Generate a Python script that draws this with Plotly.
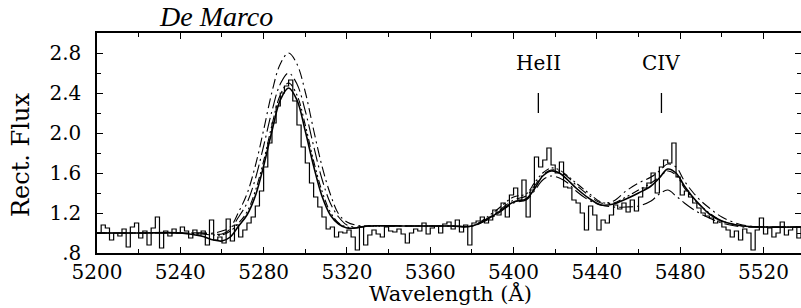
import plotly.graph_objects as go

# Observed spectrum (rectified flux), 2 A sampling
obs_wave = list(range(5200, 5541, 2))
obs_flux = [
    1.00, 1.08, 1.05, 0.93, 1.00, 0.97, 1.04, 0.86, 1.06, 1.10,
    0.95, 1.02, 0.88, 1.05, 1.16, 0.85, 1.02, 0.97, 1.04, 1.00,
    1.06, 1.02, 0.95, 1.03, 0.98, 1.02, 0.88, 1.13, 0.93, 0.96,
    0.90, 1.14, 0.92, 1.08, 0.96, 1.03, 1.10, 1.16, 1.27, 1.42,
    1.66, 1.90, 2.10, 2.27, 2.40, 2.47, 2.53, 2.32, 2.08, 1.86,
    1.70, 1.50, 1.36, 1.26, 1.16, 1.04, 1.06, 0.96, 1.01, 1.00,
    1.03, 0.96, 0.83, 1.06, 0.88, 0.98, 1.03, 0.99, 0.96, 1.06,
    1.02, 1.01, 1.04, 0.99, 0.90, 1.00, 1.04, 1.02, 1.10, 0.99,
    1.05, 1.07, 1.00, 1.09, 1.11, 1.04, 1.13, 1.01, 1.08, 0.88,
    1.10, 1.12, 1.16, 1.10, 1.13, 1.23, 1.18, 1.30, 1.16, 1.38,
    1.45, 1.33, 1.53, 1.16, 1.43, 1.76, 1.66, 1.73, 1.85, 1.68,
    1.60, 1.71, 1.46, 1.45, 1.33, 1.30, 1.20, 1.03, 1.27, 1.18,
    1.03, 1.13, 1.10, 1.18, 1.28, 1.24, 1.30, 1.21, 1.33, 1.22,
    1.36, 1.45, 1.50, 1.60, 1.40, 1.66, 1.73, 1.70, 1.90, 1.56,
    1.38, 1.42, 1.36, 1.30, 1.25, 1.20, 1.17, 1.15, 1.10, 1.12,
    1.06, 1.03, 0.96, 1.02, 0.93, 1.04, 1.00, 0.83, 1.03, 1.15,
    0.99, 1.05, 0.96, 1.00, 1.11, 0.98, 1.03, 1.06, 0.95, 1.05,
    1.02,
]

# Model wavelengths (shared grid)
model_wave = [5200, 5220, 5240, 5250, 5256, 5260, 5264, 5268, 5272, 5276,
              5280, 5284, 5288, 5292, 5296, 5300, 5304, 5308, 5312, 5316,
              5320, 5324, 5330, 5350, 5370, 5380, 5390, 5400, 5406, 5410,
              5414, 5418, 5422, 5426, 5430, 5436, 5442, 5448, 5454, 5460,
              5466, 5470, 5474, 5478, 5482, 5486, 5490, 5494, 5500, 5510,
              5520, 5540]

model_a = [1.00, 1.00, 1.00, 1.00, 1.00, 1.02, 1.06, 1.21, 1.39, 1.67,
           2.03, 2.41, 2.69, 2.80, 2.69, 2.41, 2.03, 1.67, 1.39, 1.19,
           1.11, 1.08, 1.07, 1.07, 1.07, 1.07, 1.18, 1.33, 1.37, 1.47,
           1.58, 1.63, 1.62, 1.56, 1.48, 1.38, 1.30, 1.32, 1.42, 1.50,
           1.56, 1.62, 1.69, 1.66, 1.52, 1.41, 1.32, 1.25, 1.16, 1.08,
           1.06, 1.06]
model_b = [1.00, 1.00, 1.00, 1.00, 0.99, 0.99, 1.04, 1.16, 1.30, 1.54,
           1.87, 2.22, 2.49, 2.60, 2.49, 2.22, 1.87, 1.54, 1.30, 1.16,
           1.08, 1.06, 1.07, 1.07, 1.07, 1.07, 1.16, 1.30, 1.33, 1.42,
           1.53, 1.57, 1.55, 1.50, 1.42, 1.33, 1.28, 1.26, 1.26, 1.27,
           1.32, 1.39, 1.43, 1.37, 1.30, 1.24, 1.19, 1.15, 1.10, 1.06,
           1.06, 1.06]
model_c = [1.00, 1.00, 1.00, 0.99, 0.98, 0.98, 1.02, 1.10, 1.21, 1.42,
           1.72, 2.08, 2.38, 2.50, 2.38, 2.08, 1.72, 1.42, 1.21, 1.10,
           1.06, 1.05, 1.07, 1.07, 1.07, 1.07, 1.20, 1.36, 1.39, 1.50,
           1.60, 1.65, 1.63, 1.57, 1.50, 1.40, 1.31, 1.30, 1.36, 1.43,
           1.50, 1.56, 1.62, 1.58, 1.45, 1.35, 1.27, 1.20, 1.12, 1.07,
           1.06, 1.06]
model_d = [1.00, 1.00, 1.00, 0.97, 0.93, 0.92, 0.96, 1.07, 1.18, 1.37,
           1.67, 2.02, 2.33, 2.45, 2.33, 2.02, 1.67, 1.37, 1.18, 1.09,
           1.05, 1.05, 1.07, 1.07, 1.07, 1.07, 1.17, 1.31, 1.34, 1.44,
           1.57, 1.62, 1.60, 1.53, 1.45, 1.35, 1.28, 1.29, 1.34, 1.40,
           1.47, 1.55, 1.64, 1.60, 1.47, 1.36, 1.27, 1.19, 1.12, 1.07,
           1.06, 1.06]

line_labels = ["HeII", "CIV"]
line_waves = [5411.9, 5471.0]

x_tickvals = [5200, 5240, 5280, 5320, 5360, 5400, 5440, 5480, 5520]
x_ticktext = [str(v) for v in x_tickvals]
y_tickvals = [0.8, 1.2, 1.6, 2.0, 2.4, 2.8]
y_ticktext = [".8", "1.2", "1.6", "2.0", "2.4", "2.8"]

FONT = "DejaVu Serif"

# plot area in pixels
L, T, W, H = 97, 33, 704, 220

fig = go.Figure()
fig.add_trace(go.Scatter(x=model_wave, y=model_a, mode="lines", line_shape="spline",
                         line=dict(color="black", width=1.1, dash="10px,4px,2px,4px")))
fig.add_trace(go.Scatter(x=model_wave, y=model_b, mode="lines", line_shape="spline",
                         line=dict(color="black", width=1.1, dash="14px,4px,2px,4px")))
fig.add_trace(go.Scatter(x=model_wave, y=model_c, mode="lines", line_shape="spline",
                         line=dict(color="black", width=1.1, dash="8px,3px,2px,3px,2px,3px")))
fig.add_trace(go.Scatter(x=model_wave, y=model_d, mode="lines", line_shape="spline",
                         line=dict(color="black", width=1.6)))
fig.add_trace(go.Scatter(x=obs_wave, y=obs_flux, mode="lines", line_shape="hv",
                         line=dict(color="black", width=1.2)))

for lab, w in zip(line_labels, line_waves):
    fig.add_shape(type="line", x0=w, x1=w, y0=2.20, y1=2.40, xref="x", yref="y",
                  line=dict(color="black", width=1.3))
    fig.add_annotation(x=w, y=2.70, xref="x", yref="y", text=lab, showarrow=False,
                       font=dict(family=FONT, size=20, color="black"))

# title
fig.add_annotation(x=(157 - L) / W, y=1 + (T - 16) / H, xref="paper", yref="paper",
                   text="<i>De Marco</i>", showarrow=False, xanchor="left", yanchor="middle",
                   font=dict(family="Liberation Serif", size=28, color="black"))
# axis titles
fig.add_annotation(x=(450 - L) / W, y=(T + H - 293) / H, xref="paper", yref="paper",
                   text="Wavelength (Å)", showarrow=False, xanchor="center", yanchor="middle",
                   font=dict(family=FONT, size=21, color="black"))
fig.add_annotation(x=(21 - L) / W, y=(T + H - 155) / H, xref="paper", yref="paper",
                   text="Rect. Flux", showarrow=False, textangle=-90,
                   xanchor="center", yanchor="middle",
                   font=dict(family=FONT, size=24, color="black"))

axis_common = dict(showgrid=False, zeroline=False, showline=True, linecolor="black",
                   linewidth=1.5, mirror="ticks", ticks="inside", ticklen=6,
                   tickcolor="black", tickwidth=1.2, automargin=False,
                   tickfont=dict(family=FONT, size=20, color="black"))

fig.update_layout(
    width=801, height=308,
    margin=dict(l=L, r=801 - L - W, t=T, b=308 - T - H, autoexpand=False),
    plot_bgcolor="white", paper_bgcolor="white",
    showlegend=False,
    xaxis=dict(range=[5200, 5538], tickvals=x_tickvals, ticktext=x_ticktext,
               minor=dict(dtick=20, tick0=5200, ticks="inside", ticklen=4, tickcolor="black"),
               **axis_common),
    yaxis=dict(range=[0.8, 3.0], tickvals=y_tickvals, ticktext=y_ticktext,
               ticklabelstandoff=10,
               minor=dict(dtick=0.2, tick0=0.8, ticks="inside", ticklen=4, tickcolor="black"),
               **axis_common),
)

fig.write_html(
    "out.html",
    config={"displayModeBar": False},
    post_script="document.body.style.margin='0';document.body.style.overflow='hidden';",
)
